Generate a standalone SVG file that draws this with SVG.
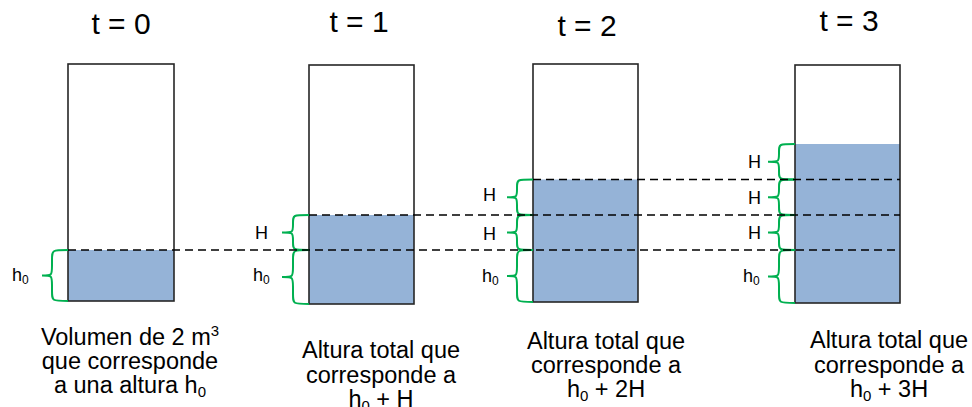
<svg xmlns="http://www.w3.org/2000/svg" width="972" height="407" viewBox="0 0 972 407">
<style>
text{font-family:"Liberation Sans",Arial,sans-serif;fill:#000}
.title{font-size:30px;text-anchor:middle}
.cap{font-size:23.5px;text-anchor:middle}
.lbl{font-size:18px}
.sub{font-size:12px}
.csub{font-size:15px}
.water{fill:#95B3D7;stroke:none}
.tank{fill:none;stroke:#262626;stroke-width:1.6}
.brace{fill:none;stroke:#00B050;stroke-width:2}
.dash{stroke:#000;stroke-width:1.6;stroke-dasharray:8 5;fill:none}
</style>
<rect width="972" height="407" fill="#fff"/>
<g id="tank0">
<text class="title" x="121" y="34">t = 0</text>
<rect class="water" x="68" y="250" width="106" height="51"/>
<rect class="tank" x="68" y="64" width="106" height="237"/>
<path class="brace" d="M68,250 C52,250 52,250 52,260 L52,265.5 C52,275.5 52,275.5 42,275.5 C52,275.5 52,275.5 52,285.5 L52,291 C52,301 52,301 68,301"/>
<text class="lbl" x="12" y="281">h<tspan class="sub" dy="3">0</tspan></text>
<text class="cap" x="130" y="345">Volumen de 2 m<tspan class="csub" dy="-9">3</tspan></text>
<text class="cap" x="130" y="369">que corresponde</text>
<text class="cap" x="130" y="393">a una altura h<tspan class="csub" dy="4">0</tspan></text>
</g>
<g id="tank1">
<text class="title" x="359" y="32">t = 1</text>
<rect class="water" x="309" y="215" width="105" height="89"/>
<rect class="tank" x="309" y="65" width="105" height="239"/>
<path class="brace" d="M309,215 C293,215 293,215 293,223 L293,224.5 C293,232.5 293,232.5 282,232.5 C293,232.5 293,232.5 293,240.5 L293,242 C293,250 293,250 309,250"/>
<path class="brace" d="M309,250 C293,250 293,250 293,260 L293,267 C293,277 293,277 282,277 C293,277 293,277 293,287 L293,294 C293,304 293,304 309,304"/>
<text class="lbl" x="255" y="239">H</text>
<text class="lbl" x="253" y="281">h<tspan class="sub" dy="3">0</tspan></text>
<text class="cap" x="381" y="358">Altura total que</text>
<text class="cap" x="381" y="382.5">corresponde a</text>
<text class="cap" x="381" y="407">h<tspan class="csub" dy="4">0</tspan><tspan dy="-4"> + H</tspan></text>
</g>
<g id="tank2">
<text class="title" x="587" y="36">t = 2</text>
<rect class="water" x="533" y="179.5" width="105" height="122.5"/>
<rect class="tank" x="533" y="64" width="105" height="238"/>
<path class="brace" d="M533,179.5 C517,179.5 517,179.5 517,187.5 L517,189.25 C517,197.25 517,197.25 507,197.25 C517,197.25 517,197.25 517,205.25 L517,207 C517,215 517,215 533,215"/>
<path class="brace" d="M533,215 C517,215 517,215 517,223 L517,224.5 C517,232.5 517,232.5 507,232.5 C517,232.5 517,232.5 517,240.5 L517,242 C517,250 517,250 533,250"/>
<path class="brace" d="M533,250 C517,250 517,250 517,260 L517,266 C517,276 517,276 507,276 C517,276 517,276 517,286 L517,292 C517,302 517,302 533,302"/>
<text class="lbl" x="483" y="201">H</text>
<text class="lbl" x="483" y="240">H</text>
<text class="lbl" x="482" y="282">h<tspan class="sub" dy="3">0</tspan></text>
<text class="cap" x="606" y="349">Altura total que</text>
<text class="cap" x="606" y="373">corresponde a</text>
<text class="cap" x="606" y="397">h<tspan class="csub" dy="4">0</tspan><tspan dy="-4"> + 2H</tspan></text>
</g>
<g id="tank3">
<text class="title" x="849" y="31">t = 3</text>
<rect class="water" x="795" y="144" width="105" height="159"/>
<rect class="tank" x="795" y="65" width="105" height="238"/>
<path class="brace" d="M795,144 C779,144 779,144 779,152 L779,153.75 C779,161.75 779,161.75 768,161.75 C779,161.75 779,161.75 779,169.75 L779,171.5 C779,179.5 779,179.5 795,179.5"/>
<path class="brace" d="M795,179.5 C779,179.5 779,179.5 779,187.5 L779,189.25 C779,197.25 779,197.25 768,197.25 C779,197.25 779,197.25 779,205.25 L779,207 C779,215 779,215 795,215"/>
<path class="brace" d="M795,215 C779,215 779,215 779,223 L779,224.5 C779,232.5 779,232.5 768,232.5 C779,232.5 779,232.5 779,240.5 L779,242 C779,250 779,250 795,250"/>
<path class="brace" d="M795,250 C779,250 779,250 779,260 L779,266.5 C779,276.5 779,276.5 768,276.5 C779,276.5 779,276.5 779,286.5 L779,293 C779,303 779,303 795,303"/>
<text class="lbl" x="748" y="168">H</text>
<text class="lbl" x="748" y="204">H</text>
<text class="lbl" x="748" y="239">H</text>
<text class="lbl" x="743" y="282">h<tspan class="sub" dy="3">0</tspan></text>
<text class="cap" x="889" y="348">Altura total que</text>
<text class="cap" x="889" y="372.5">corresponde a</text>
<text class="cap" x="889" y="397">h<tspan class="csub" dy="4">0</tspan><tspan dy="-4"> + 3H</tspan></text>
</g>
<g id="connectors">
<line class="dash" x1="68" y1="250" x2="900" y2="250"/>
<line class="dash" x1="309" y1="215" x2="900" y2="215"/>
<line class="dash" x1="533" y1="179.5" x2="900" y2="179.5"/>
</g>
</svg>
